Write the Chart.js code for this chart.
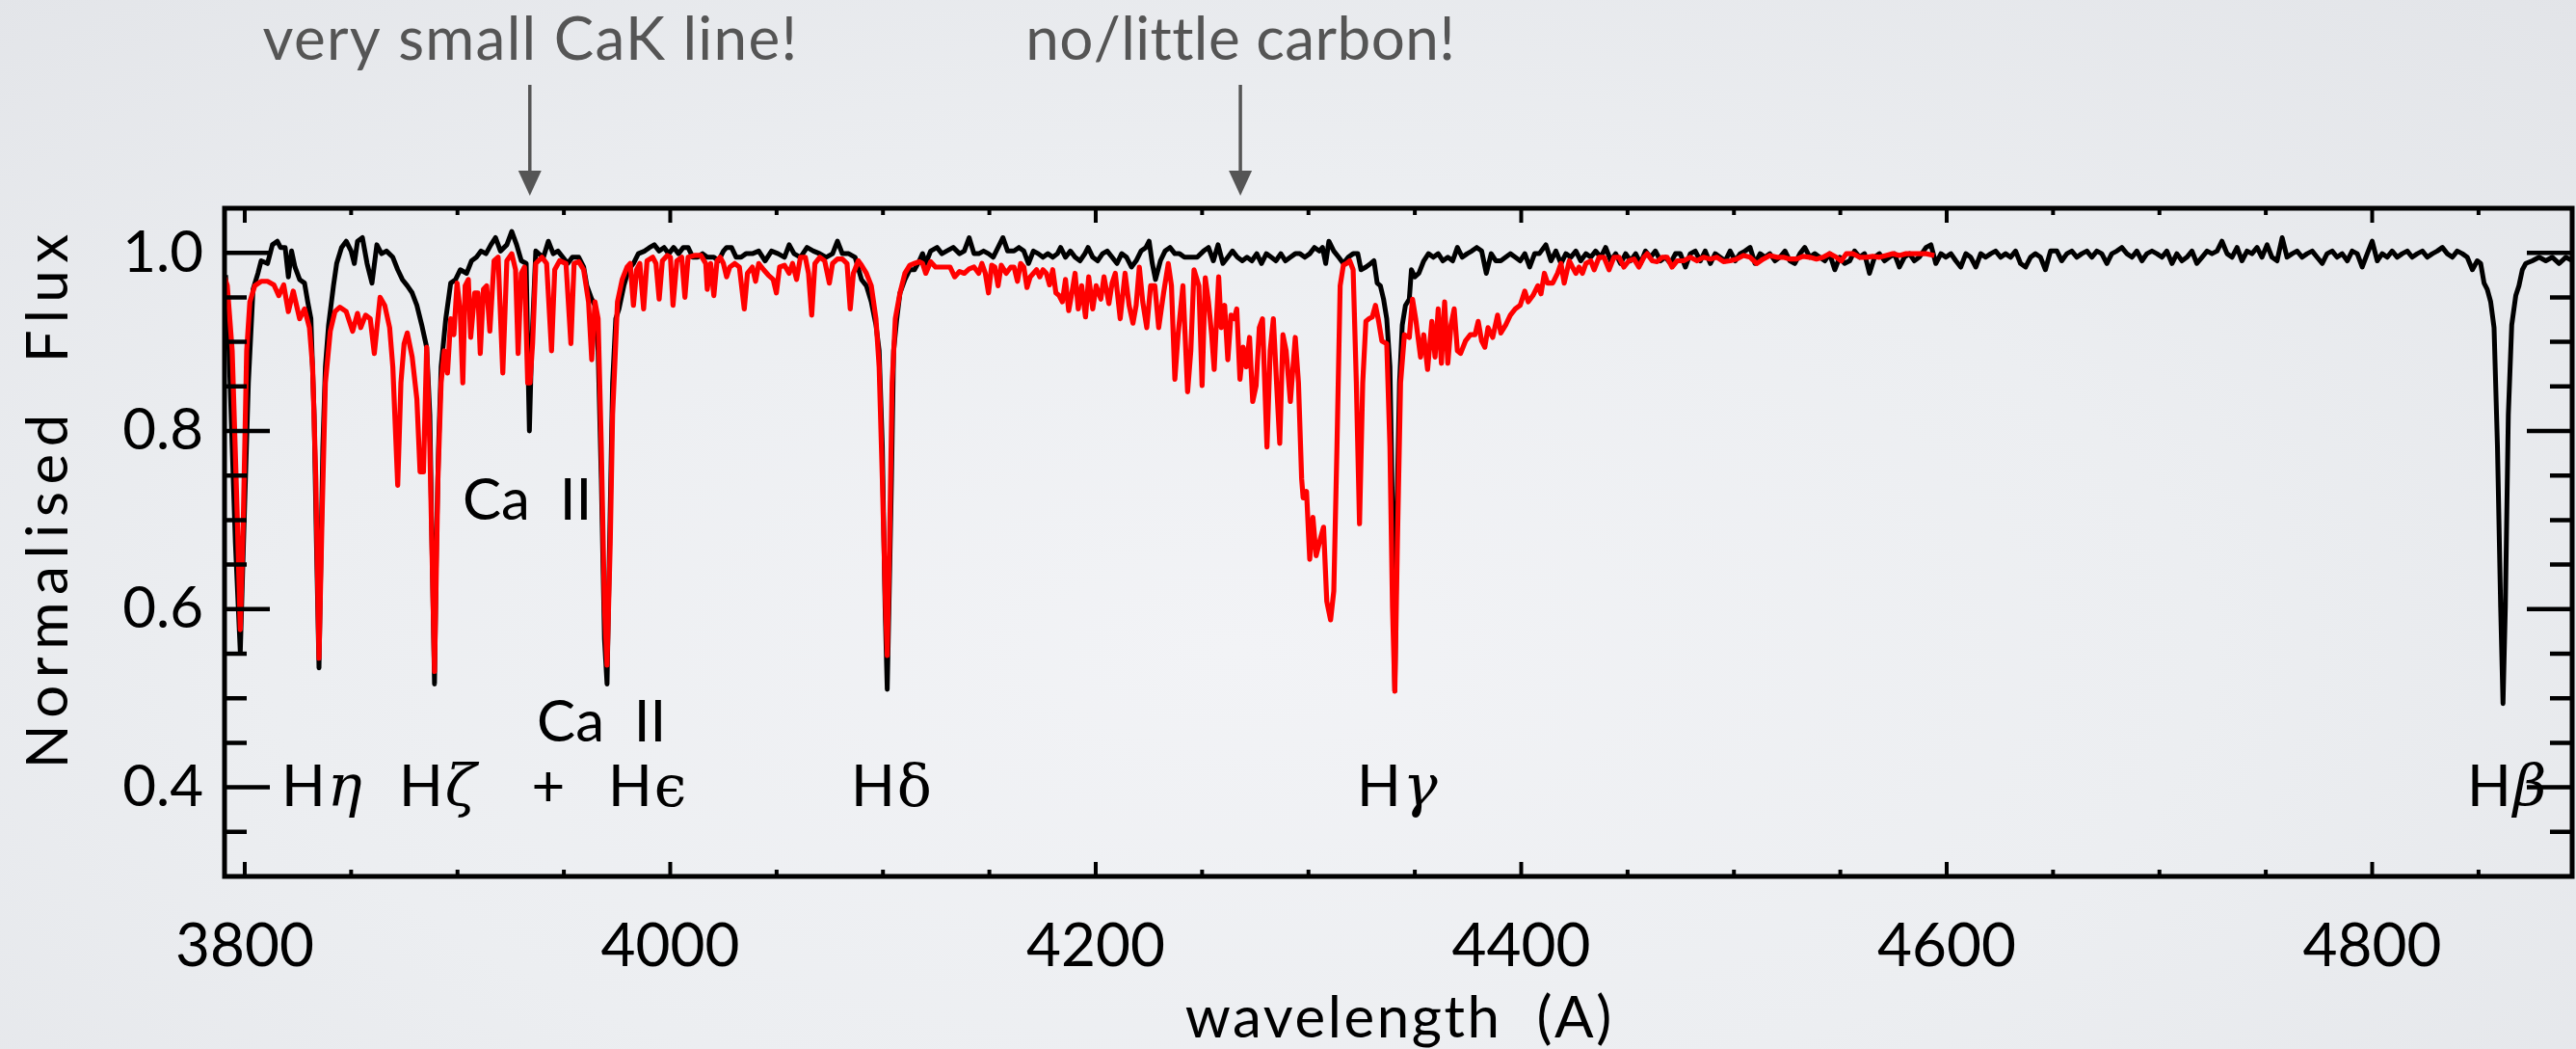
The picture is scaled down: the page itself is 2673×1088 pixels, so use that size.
<!DOCTYPE html>
<html>
<head>
<meta charset="utf-8">
<script src="https://cdn.jsdelivr.net/npm/chart.js@4.4.0/dist/chart.umd.min.js"></script>
<style>
  html, body { margin: 0; padding: 0; overflow: hidden; }
  body {
    width: 2673px; height: 1088px;
    background: radial-gradient(ellipse 75% 90% at 48% 62%, #f2f3f6 0%, #eceef1 50%, #e2e4e8 100%);
  }
  canvas { display: block; }
</style>
</head>
<body>
<canvas id="c" width="2673" height="1088"></canvas>
<script>
// ---------------- data ----------------
const blackWave = [3791.0,3792.6,3795.6,3797.9,3799.4,3801.7,3803.9,3806.2,3807.7,3810.7,3813.0,3815.3,3816.8,3819.0,3820.5,3822.0,3823.6,3825.8,3828.1,3829.6,3831.1,3832.6,3833.7,3834.9,3835.9,3836.7,3837.9,3839.4,3841.7,3843.2,3845.5,3847.7,3850.0,3851.5,3853.0,3855.3,3857.5,3859.8,3862.1,3864.3,3866.6,3869.6,3871.9,3874.1,3876.4,3878.7,3880.9,3883.2,3885.5,3887.0,3888.0,3889.2,3890.1,3891.1,3892.3,3894.5,3896.8,3899.1,3901.3,3904.3,3906.6,3908.9,3911.1,3913.4,3915.7,3917.9,3920.2,3923.2,3925.5,3927.8,3930.0,3932.3,3933.0,3933.8,3934.8,3936.8,
3938.2,3940.4,3942.7,3945.0,3947.2,3949.5,3951.8,3954.0,3957.0,3959.3,3960.8,3963.1,3964.6,3966.1,3967.6,3969.1,3970.3,3971.5,3972.9,3974.4,3975.9,3978.2,3980.4,3982.7,3985.0,3988.0,3990.3,3992.5,3994.8,3997.1,3999.3,4001.6,4003.9,4006.1,4008.4,4010.6,4012.9,4015.2,4017.4,4020.5,4022.7,4025.0,4026.5,4028.8,4031.0,4033.3,4035.6,4038.6,4041.6,4044.6,4047.6,4050.7,4053.7,4055.9,4058.2,4061.2,4064.3,4067.3,4070.3,4073.3,4076.3,4078.6,4080.9,4083.9,4086.9,
4089.9,4092.2,4094.5,4096.7,4098.2,4099.7,4101.0,4102.0,4103.1,4104.0,4105.0,4106.5,4108.0,4110.3,4112.6,4114.8,4117.1,4118.6,4120.1,4122.4,4125.4,4127.7,4129.9,4133.0,4136.0,4138.2,4140.5,4142.8,4145.0,4147.3,4149.6,4151.8,4154.1,4156.4,4158.6,4161.6,4163.9,4166.2,4168.4,4170.7,4173.0,4175.2,4177.5,4179.8,4182.0,4183.5,4185.8,4188.1,4190.3,4192.6,4194.9,4196.4,4198.6,4200.9,4203.2,4205.4,4207.7,4210.0,4212.2,4214.5,4216.8,4219.0,4221.3,4223.6,4225.1,4226.6,4228.1,4230.4,4232.6,4234.9,4237.2,4239.4,4241.7,4244.7,4247.7,
4250.7,4253.0,4255.3,4257.5,4259.8,4262.1,4264.3,4266.6,4268.9,4271.1,4273.4,4275.7,4277.9,4280.2,4282.5,4284.7,4287.0,4289.2,4291.5,4293.8,4296.0,4298.3,4300.6,4302.8,4305.1,4306.6,4308.1,4309.6,4311.9,4314.2,4316.4,4318.7,4321.0,4323.2,4324.7,4327.0,4329.3,4330.8,4332.3,4333.8,4335.3,4336.8,4338.3,4339.5,4340.6,4341.6,4342.8,4344.1,4345.6,4347.4,4348.4,4350.0,4351.9,4354.2,4356.4,4358.7,4361.0,4363.2,4365.5,4367.8,4370.0,4372.3,4374.6,4376.8,4379.1,4381.4,4383.6,4385.9,4388.1,4390.4,4392.7,4394.9,4397.2,4399.5,4401.7,4404.0,4406.3,4408.5,
4411.6,4414.0,4416.3,4418.7,4421.0,4423.3,4425.7,4428.0,4430.4,4432.7,4435.0,4437.4,4439.7,4442.1,4444.4,4446.7,4449.1,4451.4,4453.8,4456.1,4458.4,4460.8,4463.1,4465.5,4467.8,4470.1,4472.5,4474.8,4477.2,4479.5,4481.8,4484.2,4486.5,4488.9,4491.2,4493.5,4495.9,4498.2,4500.6,4502.9,4505.2,4507.6,4509.9,4512.3,4514.6,4516.9,4519.3,4521.6,4524.0,4526.3,4528.6,4531.0,4533.3,4535.7,4538.0,4540.3,4542.7,4545.0,4547.4,4549.7,4552.0,4554.4,4556.7,4559.1,4561.4,4563.7,4566.1,4568.4,4570.8,4573.1,4575.4,4577.8,4580.1,4582.5,4584.8,4587.1,4590.3,4592.6,4594.9,4597.3,4599.6,4602.0,4604.3,4606.6,4609.0,4611.3,4613.7,4616.0,4618.3,4620.7,4623.0,4625.4,4627.7,4630.0,4632.4,4634.7,4637.1,4639.4,4641.7,4644.1,4646.4,4648.8,
4651.8,4654.1,4656.5,4658.8,4661.2,4663.5,4665.9,4668.2,4670.6,4672.9,4675.3,4677.6,4680.0,4682.3,4684.7,4687.1,4689.4,4691.8,4694.1,4696.5,4698.8,4701.2,4703.5,4705.9,4708.2,4710.6,4712.9,4715.3,4717.6,4720.0,4722.4,4724.7,4727.1,4729.4,4731.8,4734.1,4736.5,4738.8,4741.2,4743.5,4745.9,4748.2,4750.6,4752.9,4755.3,4757.7,4760.0,4762.4,4764.7,4767.1,4769.4,4771.8,4774.1,4776.5,4778.8,4781.2,4783.5,4785.9,4788.3,4790.6,4793.0,4795.3,4797.7,4800.0,4802.4,4804.7,4807.1,4809.4,4811.8,4814.1,4816.5,4818.8,4821.2,4823.6,4825.9,4828.3,4830.6,4833.0,4835.3,4837.7,4840.0,4842.4,4844.7,4847.1,4849.4,4851.0,4852.6,4854.1,4855.7,4857.3,4858.9,4860.4,4861.5,4862.6,4864.0,4865.6,4867.5,4869.0,4870.6,4872.2,4875.3,4878.5,4881.6,4884.7,4887.9,4891.0,4894.2];
const blackFlux = [0.975,0.890,0.674,0.552,0.674,0.854,0.959,0.977,0.991,0.988,1.009,1.013,1.006,1.006,0.973,1.002,0.984,0.970,0.966,0.945,0.926,0.818,0.674,0.534,0.674,0.782,0.872,0.919,0.963,0.988,1.006,1.013,1.002,0.988,1.013,1.017,0.988,0.966,1.009,0.999,1.002,0.995,0.981,0.970,0.963,0.955,0.941,0.919,0.894,0.818,0.674,0.516,0.674,0.782,0.872,0.926,0.966,0.970,0.981,0.977,0.991,0.995,1.002,0.999,1.009,1.017,1.002,1.009,1.024,1.009,0.991,0.988,0.890,0.800,0.890,1.002,
0.999,0.995,1.013,0.999,1.002,0.995,0.988,0.995,0.995,0.984,0.963,0.948,0.941,0.890,0.746,0.566,0.516,0.674,0.854,0.926,0.937,0.963,0.981,0.988,0.999,1.002,1.006,1.009,1.002,1.006,0.999,1.006,0.999,1.006,1.006,0.995,0.995,0.999,0.995,0.995,0.991,1.002,1.006,1.006,0.995,0.995,0.999,0.999,1.002,0.991,1.002,0.999,0.995,1.009,0.999,0.995,1.006,1.002,0.999,0.995,0.999,1.013,0.999,0.999,0.995,
0.970,0.963,0.945,0.919,0.890,0.782,0.602,0.510,0.638,0.746,0.890,0.926,0.955,0.970,0.981,0.981,0.991,0.999,0.988,1.002,1.006,0.999,1.002,1.006,0.999,1.002,1.017,0.999,0.999,1.002,0.999,0.995,1.006,1.017,1.002,1.002,1.006,1.002,0.988,1.002,0.999,0.995,0.999,0.995,0.999,1.006,0.995,1.002,0.995,0.991,0.999,1.006,0.995,0.991,0.999,1.002,0.995,0.988,0.999,0.995,0.984,0.991,1.002,1.006,1.013,0.988,0.970,0.991,1.002,1.006,0.999,0.999,0.995,0.995,0.995,
1.002,1.006,0.991,1.009,0.988,0.995,1.002,0.995,0.991,0.995,0.991,0.999,0.988,0.999,0.995,0.991,0.999,0.991,0.995,0.999,0.999,0.995,0.999,1.006,1.002,1.006,0.988,1.013,1.002,0.995,0.988,0.995,0.999,0.999,0.981,0.984,0.988,0.991,0.966,0.963,0.948,0.926,0.872,0.710,0.508,0.710,0.854,0.919,0.941,0.948,0.981,0.973,0.977,0.991,0.999,0.995,0.999,0.991,0.995,0.991,1.006,0.995,0.999,1.002,1.006,1.002,0.977,0.999,0.991,0.991,0.995,0.999,0.995,0.991,0.999,0.984,0.999,0.999,
1.009,0.991,1.002,0.988,0.999,0.995,1.002,0.991,0.999,0.995,1.002,0.995,1.006,0.991,0.999,0.988,0.999,0.991,0.999,0.988,1.002,0.995,1.002,0.991,0.995,0.988,0.999,0.999,0.984,0.999,1.002,0.991,1.002,0.988,0.999,0.995,0.991,1.002,0.991,0.999,1.002,1.006,0.988,0.999,0.995,0.999,0.991,0.995,1.002,0.991,0.988,0.999,1.006,0.995,0.999,0.995,0.991,0.999,0.981,0.995,0.988,0.991,1.002,0.995,0.999,0.977,0.995,0.999,0.991,0.995,0.999,0.984,0.995,0.999,0.991,0.995,1.006,1.009,0.988,0.999,0.995,0.999,0.991,0.984,0.999,0.995,0.984,0.999,0.995,0.999,1.002,0.995,0.999,0.995,1.002,0.988,0.984,0.995,0.999,0.995,0.981,1.002,
1.002,0.991,0.999,1.002,0.995,0.999,1.002,0.995,1.002,0.999,0.988,0.999,1.002,1.006,0.999,0.995,1.002,0.991,0.999,1.002,0.999,0.995,1.002,0.988,0.999,0.991,0.995,1.002,0.988,0.995,1.002,0.999,1.002,1.013,0.999,0.995,1.006,0.991,1.002,0.999,1.006,0.995,1.009,0.995,0.991,1.017,0.995,0.999,1.002,0.995,0.999,1.002,0.995,0.988,0.999,1.002,0.995,0.999,0.991,1.002,0.999,0.984,0.999,1.013,0.991,0.999,0.995,1.002,0.995,0.999,1.002,0.995,0.999,1.002,0.995,0.999,1.002,1.006,0.999,0.995,1.002,0.999,0.995,0.981,0.991,0.988,0.966,0.959,0.945,0.916,0.782,0.602,0.494,0.602,0.818,0.919,0.952,0.963,0.981,0.988,0.991,0.995,0.991,0.995,0.988,0.995,0.991];

const redWave = [3790.6,3791.8,3794.1,3796.4,3797.9,3799.4,3800.9,3802.4,3804.7,3807.7,3810.7,3813.7,3816.0,3818.3,3820.5,3822.8,3825.8,3828.1,3830.4,3831.9,3833.4,3834.9,3836.4,3837.9,3840.2,3842.4,3844.7,3847.7,3850.7,3853.0,3854.5,3856.8,3859.0,3860.9,3863.6,3865.8,3868.1,3869.6,3871.9,3873.4,3874.9,3876.4,3878.7,3880.9,3882.4,3884.0,3885.5,3887.0,3889.2,3890.8,3892.3,3893.8,3895.3,3896.8,3898.3,3899.8,3901.3,3902.5,3903.6,3905.1,3906.2,3908.1,3909.6,3910.7,3912.2,3913.7,3915.2,3917.2,3919.1,3921.3,3923.2,3925.5,3927.3,3928.5,3930.0,3931.5,3933.0,3934.1,3935.3,3936.8,
3939.7,3941.9,3944.2,3945.7,3948.0,3951.0,3953.3,3954.8,3957.0,3959.3,3961.6,3963.1,3964.6,3966.1,3967.6,3969.1,3970.3,3971.8,3972.9,3973.9,3975.2,3977.4,3979.7,3981.2,3982.7,3984.2,3985.7,3987.5,3989.1,3991.8,3993.3,3994.8,3996.3,3998.6,4000.1,4001.3,4003.1,4005.4,4006.9,4008.4,4011.4,4014.4,4016.7,4017.4,4019.0,4020.5,4022.0,4023.5,4025.0,4026.5,4028.0,4030.3,4032.5,4034.8,4036.3,4038.6,4040.1,4041.6,4043.9,4046.1,4048.4,4049.9,4051.4,4053.7,4055.9,4057.5,4059.4,4061.2,4063.5,4065.0,4066.5,4068.0,4070.3,4072.6,4074.8,4076.3,4078.6,4080.9,4083.1,4084.6,4086.1,4088.4,
4089.9,4092.2,4094.5,4096.7,4098.2,4099.7,4101.2,4102.0,4103.1,4104.3,4105.8,4108.0,4110.3,4112.6,4114.8,4117.1,4118.6,4120.1,4122.4,4124.7,4126.9,4129.2,4131.5,4133.7,4136.0,4138.2,4140.5,4142.8,4145.0,4146.5,4148.1,4149.6,4151.1,4152.6,4154.1,4155.6,4157.9,4160.1,4161.6,4163.2,4164.7,4166.2,4167.7,4169.2,4170.7,4172.2,4173.7,4175.2,4176.8,4178.3,4179.8,4181.3,4182.8,4184.3,4185.8,4187.3,4188.8,4190.3,4191.8,4193.4,4195.2,4196.7,4198.6,4200.2,4202.4,4203.9,4206.2,4207.7,4209.2,4211.5,4213.8,4215.7,4217.5,4219.0,4220.5,4222.1,4224.0,4225.8,4227.8,4229.6,4231.9,4234.1,4235.6,4237.2,4238.7,4241.0,4243.2,4244.7,4246.2,4248.5,4250.0,
4251.5,4253.0,4254.5,4255.7,4256.8,4257.8,4259.0,4260.6,4262.1,4263.6,4265.1,4266.3,4267.8,4269.3,4270.8,4272.3,4273.8,4275.4,4276.9,4278.4,4280.5,4282.0,4283.5,4285.0,4286.5,4288.0,4289.5,4291.5,4293.8,4295.3,4296.8,4297.5,4299.1,4300.6,4302.1,4303.6,4305.5,4307.1,4308.6,4310.4,4311.9,4313.4,4314.9,4316.4,4317.9,4319.4,4321.0,4322.5,4324.0,4325.5,4327.0,4328.5,4330.0,4331.5,4333.0,4334.5,4336.8,4338.3,4339.5,4340.6,4341.8,4343.3,4345.1,4347.4,4348.9,4350.4,4352.7,4354.2,4356.0,4358.0,4359.5,4361.0,4362.5,4364.0,4365.5,4367.0,4368.5,4370.0,4371.5,4373.8,4376.1,4378.3,4379.8,4381.4,4382.9,4384.4,4386.6,4388.9,4390.4,4392.7,4394.9,4397.2,4399.5,4401.7,4403.3,4405.5,4407.8,4409.3,
4410.9,4412.4,4414.8,4417.1,4418.7,4420.2,4422.6,4424.1,4425.7,4427.2,4428.8,4430.4,4432.7,4434.3,4436.6,4438.9,4441.3,4443.6,4446.0,4448.3,4450.6,4453.0,4455.3,4457.7,4459.2,4461.6,4463.9,4466.2,4468.6,4470.9,4473.3,4476.4,4479.5,4482.6,4485.7,4488.9,4492.0,4495.1,4498.2,4501.3,4504.5,4507.6,4510.7,4513.8,4516.9,4520.1,4523.2,4526.3,4529.4,4532.5,4535.7,4538.8,4541.9,4545.0,4548.1,4550.5,4552.8,4555.9,4559.1,4562.2,4565.3,4568.4,4571.5,4574.7,4577.8,4580.9,4584.0,4587.1,4590.3,4594.2];
const redFlux = [0.972,0.963,0.890,0.710,0.577,0.710,0.890,0.945,0.963,0.968,0.968,0.964,0.952,0.964,0.934,0.957,0.926,0.937,0.916,0.872,0.746,0.545,0.710,0.854,0.912,0.934,0.939,0.934,0.912,0.932,0.916,0.930,0.926,0.887,0.950,0.941,0.916,0.872,0.739,0.854,0.898,0.910,0.883,0.836,0.754,0.754,0.894,0.782,0.530,0.746,0.854,0.890,0.865,0.926,0.908,0.966,0.934,0.854,0.963,0.970,0.905,0.955,0.955,0.887,0.959,0.963,0.912,0.991,0.995,0.865,0.991,0.999,0.981,0.887,0.977,0.984,0.854,0.854,0.898,0.988,
0.995,0.988,0.890,0.981,0.991,0.988,0.898,0.988,0.990,0.981,0.945,0.880,0.945,0.926,0.782,0.602,0.537,0.674,0.818,0.872,0.945,0.970,0.984,0.988,0.941,0.981,0.988,0.937,0.991,0.995,0.988,0.948,0.991,0.997,0.995,0.941,0.991,0.995,0.950,0.995,0.997,0.997,0.988,0.959,0.988,0.952,0.991,0.995,0.988,0.973,0.984,0.988,0.984,0.937,0.977,0.984,0.968,0.988,0.981,0.975,0.970,0.955,0.984,0.986,0.977,0.988,0.970,0.995,0.995,0.977,0.930,0.988,0.995,0.991,0.966,0.988,0.993,0.993,0.988,0.937,0.977,0.991,
0.986,0.977,0.963,0.926,0.872,0.746,0.602,0.548,0.674,0.854,0.926,0.955,0.977,0.986,0.988,0.990,0.988,0.977,0.990,0.984,0.984,0.984,0.984,0.973,0.979,0.977,0.982,0.984,0.977,0.988,0.977,0.955,0.986,0.984,0.963,0.986,0.977,0.984,0.984,0.968,0.988,0.984,0.961,0.973,0.977,0.981,0.973,0.981,0.977,0.964,0.981,0.955,0.952,0.945,0.970,0.935,0.955,0.977,0.937,0.963,0.928,0.973,0.937,0.963,0.948,0.973,0.943,0.966,0.977,0.926,0.977,0.941,0.921,0.941,0.984,0.945,0.916,0.963,0.963,0.916,0.955,0.988,0.963,0.858,0.908,0.963,0.844,0.890,0.981,0.963,0.851,
0.972,0.945,0.908,0.869,0.926,0.973,0.916,0.941,0.880,0.930,0.926,0.937,0.858,0.894,0.872,0.905,0.833,0.851,0.916,0.926,0.782,0.890,0.926,0.854,0.786,0.908,0.890,0.833,0.905,0.854,0.746,0.725,0.732,0.656,0.703,0.660,0.678,0.692,0.609,0.588,0.620,0.782,0.963,0.986,0.988,0.991,0.981,0.854,0.696,0.854,0.923,0.926,0.928,0.941,0.923,0.901,0.898,0.782,0.602,0.508,0.674,0.854,0.908,0.905,0.948,0.926,0.883,0.908,0.869,0.923,0.883,0.937,0.876,0.945,0.876,0.919,0.937,0.890,0.887,0.901,0.908,0.908,0.923,0.901,0.894,0.916,0.905,0.930,0.910,0.919,0.930,0.937,0.941,0.957,0.945,0.952,0.963,0.954,
0.977,0.966,0.966,0.977,0.988,0.966,0.991,0.984,0.977,0.984,0.977,0.988,0.991,0.981,0.995,0.995,0.981,0.995,0.995,0.984,0.991,0.993,0.984,0.995,0.999,0.991,0.990,0.995,0.995,0.984,0.991,0.991,0.995,0.991,0.995,0.993,0.995,0.990,0.991,0.993,0.997,0.995,0.988,0.993,0.997,0.995,0.995,0.993,0.993,0.996,0.995,0.993,0.995,0.999,0.995,0.991,0.999,0.999,0.995,0.995,0.996,0.995,0.997,0.999,0.997,0.999,0.999,0.999,0.999,0.997];

// axis tick labels
const xTickLabels = [3800, 4000, 4200, 4400, 4600, 4800];
const yTickLabels = [0.4, 0.6, 0.8, 1.0];

// line identifications: text, anchor wavelength (left edge), anchor flux (vertical centre)
const lineLabelText = [['H','η'], ['H','ζ'], ['+',''], ['H','ϵ'], ['H','δ'], ['Ca  II',''], ['Ca  II',''], ['H','γ'], ['H','β']];
const lineLabelWave = [3817.2, 3872.5, 3934.8, 3970.8, 4084.9, 3937.3, 3902.4, 4322.8, 4844.6];
const lineLabelFlux = [0.400, 0.400, 0.400, 0.400, 0.400, 0.472, 0.721, 0.400, 0.400];
const greekItalic = [true, true, false, false, false, false, false, true, true];

// annotations above the plot
const noteText = ['very small CaK line!', 'no/little carbon!'];
const noteWave = [3934.0, 4268.0];

// ---------------- chart ----------------
const blackData = blackWave.map((w, i) => ({ x: w, y: blackFlux[i] }));
const redData = redWave.map((w, i) => ({ x: w, y: redFlux[i] }));

const PLOT_TOP = 216, X_AXIS_H = 179, Y_AXIS_W = 233;

function spaced(ctx, text, target) {
  ctx.letterSpacing = '0px';
  const w0 = ctx.measureText(text).width;
  const ls = Math.max(0, (target - w0) / text.length);
  ctx.letterSpacing = ls.toFixed(2) + 'px';
  return ls;
}

const decor = {
  id: 'decor',
  afterDatasetsDraw(chart) {
    const { ctx, chartArea: a, scales: { x, y } } = chart;
    ctx.save();
    ctx.strokeStyle = '#000';
    ctx.lineCap = 'butt';
    ctx.lineWidth = 4;
    x.ticks.forEach(t => {
      const px = x.getPixelForValue(t.value);
      if (px < a.left + 2 || px > a.right - 2) return;
      const major = xTickLabels.some(v => Math.abs(v - t.value) < 1e-6);
      const len = major ? 15 : 7;
      ctx.beginPath();
      ctx.moveTo(px, a.bottom); ctx.lineTo(px, a.bottom - len);
      ctx.moveTo(px, a.top); ctx.lineTo(px, a.top + len);
      ctx.stroke();
    });
    ctx.lineWidth = 4.5;
    y.ticks.forEach(t => {
      const py = y.getPixelForValue(t.value);
      if (py < a.top + 2 || py > a.bottom - 2) return;
      const major = yTickLabels.some(v => Math.abs(v - t.value) < 1e-6);
      const len = major ? 47 : 23;
      ctx.beginPath();
      ctx.moveTo(a.left, py); ctx.lineTo(a.left + len, py);
      ctx.moveTo(a.right, py); ctx.lineTo(a.right - len, py);
      ctx.stroke();
    });
    ctx.lineWidth = 5;
    ctx.strokeRect(a.left, a.top, a.right - a.left, a.bottom - a.top);
    ctx.restore();
  },
  afterDraw(chart) {
    const { ctx, chartArea: a, scales: { x, y } } = chart;
    ctx.save();
    ctx.fillStyle = '#000';
    ctx.textBaseline = 'middle';
    ctx.textAlign = 'left';
    lineLabelText.forEach((parts, i) => {
      let px = x.getPixelForValue(lineLabelWave[i]);
      const py = y.getPixelForValue(lineLabelFlux[i]);
      ctx.font = '60px Lato, "DejaVu Sans", sans-serif';
      ctx.fillText(parts[0], px, py);
      px += ctx.measureText(parts[0]).width + 2;
      if (parts[1]) {
        ctx.font = (greekItalic[i] ? 'italic ' : '') + '60px "DejaVu Serif", serif';
        ctx.fillText(parts[1], px, py + 4);
      }
    });
    ctx.fillStyle = '#555';
    ctx.strokeStyle = '#555';
    noteText.forEach((txt, i) => {
      const px = x.getPixelForValue(noteWave[i]);
      ctx.font = '62px Lato, sans-serif';
      const ls = spaced(ctx, txt, i === 0 ? 556 : 444);
      ctx.textAlign = 'center';
      ctx.textBaseline = 'alphabetic';
      ctx.fillText(txt, px + ls / 2, 62);
      ctx.letterSpacing = '0px';
      ctx.lineWidth = 3.5;
      ctx.beginPath();
      ctx.moveTo(px, 88); ctx.lineTo(px, 180);
      ctx.stroke();
      ctx.beginPath();
      ctx.moveTo(px - 12, 177); ctx.lineTo(px + 12, 177); ctx.lineTo(px, 203);
      ctx.closePath(); ctx.fill();
    });
    ctx.fillStyle = '#000';
    ctx.font = '60px Lato, sans-serif';
    ctx.textAlign = 'center';
    ctx.textBaseline = 'middle';
    let t = 'wavelength  (A)';
    let ls = spaced(ctx, t, 445);
    ctx.fillText(t, (a.left + a.right) / 2 + ls / 2, 1057);
    t = 'Normalised  Flux';
    ls = spaced(ctx, t, 562);
    ctx.translate(51, 520);
    ctx.rotate(-Math.PI / 2);
    ctx.fillText(t, ls / 2, 0);
    ctx.restore();
  }
};

new Chart(document.getElementById('c'), {
  type: 'line',
  data: {
    datasets: [
      { label: 'observed', data: blackData, borderColor: '#000', borderWidth: 5, pointRadius: 0, tension: 0, borderJoinStyle: 'round', order: 2 },
      { label: 'model', data: redData, borderColor: '#ff0000', borderWidth: 5.2, pointRadius: 0, tension: 0, borderJoinStyle: 'round', order: 1 }
    ]
  },
  options: {
    responsive: false,
    devicePixelRatio: 1,
    animation: false,
    events: [],
    layout: { padding: { top: PLOT_TOP, right: 4, left: 0, bottom: 0 } },
    plugins: { legend: { display: false }, tooltip: { enabled: false } },
    scales: {
      x: {
        type: 'linear', min: 3790.5, max: 4894,
        grid: { display: false, drawTicks: false },
        border: { display: false },
        ticks: {
          stepSize: 50, maxTicksLimit: 100, autoSkip: false, maxRotation: 0, includeBounds: false,
          padding: 36, color: '#000',
          font: { family: 'Lato, "DejaVu Sans", sans-serif', size: 62 },
          callback: v => xTickLabels.some(l => Math.abs(l - v) < 1e-6) ? String(Math.round(v)) : ''
        },
        afterFit: s => { s.height = X_AXIS_H; }
      },
      y: {
        type: 'linear', min: 0.3, max: 1.05,
        grid: { display: false, drawTicks: false },
        border: { display: false },
        ticks: {
          stepSize: 0.05, maxTicksLimit: 100, autoSkip: false, includeBounds: false,
          padding: 22, color: '#000',
          font: { family: 'Lato, "DejaVu Sans", sans-serif', size: 60 },
          callback: v => yTickLabels.some(l => Math.abs(l - v) < 1e-6) ? v.toFixed(1) : ''
        },
        afterFit: s => { s.width = Y_AXIS_W; }
      }
    }
  },
  plugins: [decor]
});
</script>
</body>
</html>
